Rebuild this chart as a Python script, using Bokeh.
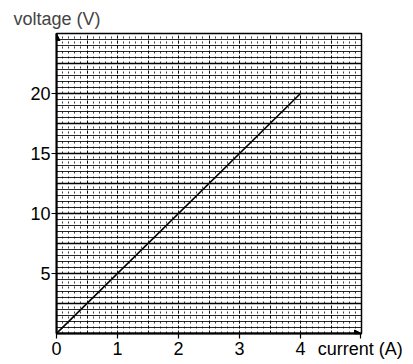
import numpy as np
from bokeh.plotting import figure
from bokeh.models import Range1d, FixedTicker, Arrow, NormalHead
from bokeh.embed import file_html
from bokeh.resources import INLINE

# data
current = [0, 4]
voltage = [0, 20]
x_ticks = [0, 1, 2, 3, 4]
x_tick_labels = ["0", "1", "2", "3", "4"]
y_ticks = [5, 10, 15, 20]
x_label = "current (A)"
x_label_pos = 4.98
y_label = "voltage (V)"

FONT = "Liberation Sans"
W, H = 413, 364
FL = 56

p = figure(width=W, height=H, x_range=Range1d(0, 5), y_range=Range1d(0, 25),
           output_backend="svg", toolbar_location=None,
           min_border_left=56, min_border_right=52, min_border_top=33, min_border_bottom=31)
p.background_fill_color = "white"
p.border_fill_color = "white"
p.outline_line_color = "black"
p.outline_line_width = 1.5

p.title.text = y_label
p.title.align = "left"
p.title.offset = 13 - FL
p.title.text_font = FONT
p.title.text_font_size = "18px"
p.title.text_font_style = "normal"

# grid paper
p.xgrid.ticker = FixedTicker(ticks=list(np.arange(0.5, 5.0, 0.5)),
                             minor_ticks=list(np.round(np.arange(0.1, 5.0, 0.1), 2)))
p.ygrid.ticker = FixedTicker(ticks=list(np.arange(2.5, 25.0, 2.5)),
                             minor_ticks=list(np.arange(0.5, 25.0, 0.5)))
p.xgrid.grid_line_color = "black"
p.xgrid.grid_line_width = 1
p.xgrid.grid_line_alpha = 0.9
p.xgrid.grid_line_dash = "3 2"
p.xgrid.minor_grid_line_color = "black"
p.xgrid.minor_grid_line_alpha = 0.75
p.xgrid.minor_grid_line_dash = "2 3"
p.ygrid.grid_line_color = "black"
p.ygrid.grid_line_width = 1.6
p.ygrid.grid_line_alpha = 1
p.ygrid.minor_grid_line_color = "black"
p.ygrid.minor_grid_line_alpha = 0.85
p.ygrid.minor_grid_line_width = 1

# axes
p.xaxis.ticker = FixedTicker(ticks=x_ticks + [x_label_pos])
overrides = {t: s for t, s in zip(x_ticks, x_tick_labels)}
overrides[x_label_pos] = x_label
p.xaxis.major_label_overrides = overrides
p.yaxis.ticker = FixedTicker(ticks=y_ticks)
for ax in (p.xaxis[0], p.yaxis[0]):
    ax.minor_tick_line_color = None
    ax.major_tick_in = 0
    ax.major_tick_out = 5
    ax.major_tick_line_width = 1.2
    ax.axis_line_width = 1.8
    ax.major_label_text_font = FONT
    ax.major_label_text_font_size = "18px"
    ax.major_label_text_color = "black"
p.xaxis.major_label_standoff = 0
p.yaxis.major_label_standoff = 1

p.line(current, voltage, line_color="black", line_width=1.6)

p.add_layout(Arrow(x_start=0, y_start=0, x_end=0, y_end=25, line_color="black", line_width=1.5,
                   end=NormalHead(size=7, fill_color="black", line_color="black")))
p.add_layout(Arrow(x_start=0, y_start=0, x_end=5, y_end=0, line_color="black", line_width=1.5,
                   end=NormalHead(size=7, fill_color="black", line_color="black")))

open("out.html", "w").write(file_html(p, INLINE))
